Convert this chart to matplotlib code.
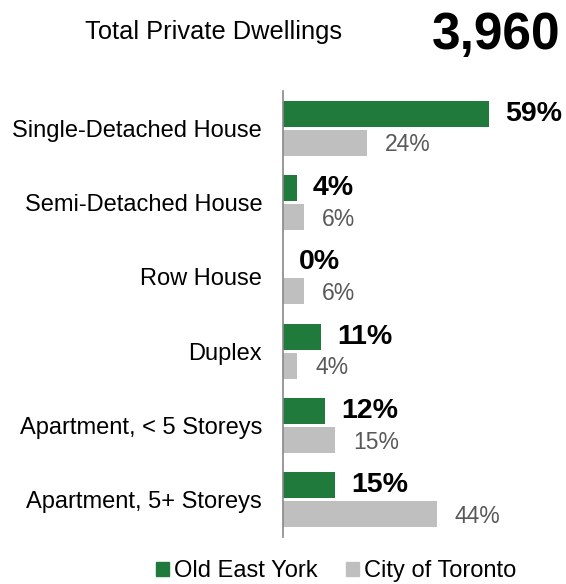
import matplotlib
matplotlib.use('Agg')
import matplotlib.pyplot as plt
import matplotlib.patches as mpatches
import numpy as np

plt.rcParams['font.family'] = ['Liberation Sans', 'DejaVu Sans']

# Dwelling type shares (%)
categories = ['Single-Detached House', 'Semi-Detached House', 'Row House',
              'Duplex', 'Apartment, < 5 Storeys', 'Apartment, 5+ Storeys']
old_east_york = [59, 4, 0, 11, 12, 15]
toronto = [24, 6, 6, 4, 15, 44]
total_dwellings = '3,960'

GREEN = '#1f7a3b'
GREY = '#bfbfbf'

W, H = 566, 584
fig = plt.figure(figsize=(W / 100, H / 100), dpi=100)

# axes placed in pixel terms: left edge at the category axis line
left, right, top, bottom = 283, 566, 91, 537
ax = fig.add_axes([left / W, 1 - bottom / H, (right - left) / W, (bottom - top) / H])

y = np.arange(len(categories))
bh = 0.35
off = 0.195

ax.barh(y - off, old_east_york, height=bh, color=GREEN, label='Old East York')
ax.barh(y + off, toronto, height=bh, color=GREY, label='City of Toronto')

for yi, v in zip(y, old_east_york):
    ax.annotate(f'{v}%', (v, yi - off), xytext=(11.5, 0), textcoords='offset points',
                ha='left', va='center', fontsize=20.5, fontweight='bold', color='black')
for yi, v in zip(y, toronto):
    ax.annotate(f'{v}%', (v, yi + off), xytext=(13, -1.5), textcoords='offset points',
                ha='left', va='center', fontsize=16.5, color='#595959')

ax.set_xlim(0, (right - left) / 3.49)
ax.set_ylim(len(categories) - 0.5, -0.5)
ax.set_yticks(y)
ax.set_yticklabels(categories, fontsize=17)
ax.tick_params(axis='y', length=0, pad=15)
ax.set_xticks([])
for s in ('top', 'right', 'bottom'):
    ax.spines[s].set_visible(False)
ax.spines['left'].set_color('#888888')
ax.spines['left'].set_linewidth(1.2)

# header
fig.text(85 / W, 1 - 39 / H, 'Total Private Dwellings', fontsize=18.3,
         ha='left', va='baseline')
fig.text(560 / W, 1 - 49 / H, total_dwellings, fontsize=37, fontweight='bold',
         ha='right', va='baseline')

handles = [mpatches.Patch(color=GREEN, label='Old East York'),
           mpatches.Patch(color=GREY, label='City of Toronto')]
fig.legend(handles=handles, loc='center', bbox_to_anchor=(336 / W, 1 - 571 / H),
           ncol=2, frameon=False, fontsize=17, handlelength=0.55, handleheight=0.55,
           handletextpad=0.2, columnspacing=1.2, borderaxespad=0, borderpad=0)

fig.savefig('out.png', dpi=100)
